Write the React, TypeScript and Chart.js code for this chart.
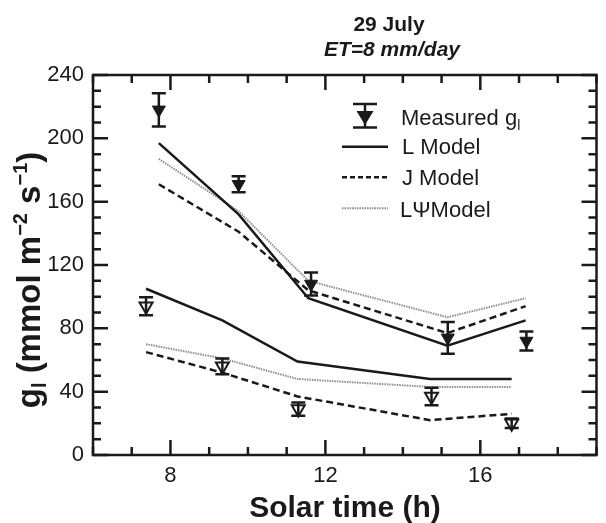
import React, { useEffect, useRef } from "react";
import { Chart, registerables } from "chart.js";

Chart.register(...registerables);

// ---- tick labels ----
const xTickValues = [8, 12, 16];
const yTickValues = [0, 40, 80, 120, 160, 200, 240];

// ---- upper group (models) ----
const upperModelTime = [7.7, 9.76, 11.56, 15.15, 17.17];
const lModelUpper = [197, 152, 99, 69, 85];
const jModelUpper = [171, 141, 104, 77, 94];
const lpsiModelUpper = [187, 154, 110, 87, 99];

// ---- lower group (models) ----
const lowerModelTime = [7.37, 9.34, 11.28, 14.7, 16.81];
const lModelLower = [105, 85, 59, 48, 48];
const jModelLower = [65, 52, 37, 22, 26];
const lpsiModelLower = [70, 61, 48, 43, 43];

// ---- measured ----
const measuredUpperTime = [7.7, 9.76, 11.63, 15.16, 17.19];
const measuredUpper = [218, 171, 108, 74, 72];
const measuredUpperErr = [10.5, 5, 7.3, 10, 6];

const measuredLowerTime = [7.37, 9.34, 11.3, 14.74, 16.81];
const measuredLower = [94, 56, 29, 37, 20];
const measuredLowerErr = [5.7, 5, 4.2, 5.5, 3];

const FONT = "'Liberation Sans', Arial, Helvetica, sans-serif";
const INK = "#1a1a1a";
const PSI_COLOR = "#8f8f8f";

const pts = (xs: number[], ys: number[]) => xs.map((x, i) => ({ x, y: ys[i] }));

type Seg = { t: string; size: number; bold?: boolean; italic?: boolean; dy?: number };

function segFont(s: Seg) {
  return `${s.italic ? "italic " : ""}${s.bold ? "bold " : ""}${s.size}px ${FONT}`;
}

function richWidth(ctx: CanvasRenderingContext2D, segs: Seg[]) {
  let w = 0;
  for (const s of segs) {
    ctx.font = segFont(s);
    w += ctx.measureText(s.t).width;
  }
  return w;
}

function drawRich(ctx: CanvasRenderingContext2D, segs: Seg[], x: number, y: number) {
  let cx = x;
  ctx.textBaseline = "alphabetic";
  ctx.textAlign = "left";
  for (const s of segs) {
    ctx.font = segFont(s);
    ctx.fillText(s.t, cx, y + (s.dy || 0));
    cx += ctx.measureText(s.t).width;
  }
}

const decorPlugin = {
  id: "decor",
  afterDatasetsDraw(chart: any) {
    const { ctx, scales } = chart;
    const xs = scales.x;
    const ys = scales.y;
    ctx.save();
    ctx.strokeStyle = INK;
    ctx.lineWidth = 2.5;
    const drawErr = (ts: number[], vs: number[], es: number[]) => {
      ts.forEach((t, i) => {
        const px = xs.getPixelForValue(t);
        const top = ys.getPixelForValue(vs[i] + es[i]);
        const bot = ys.getPixelForValue(vs[i] - es[i]);
        ctx.beginPath();
        ctx.moveTo(px, top);
        ctx.lineTo(px, bot);
        ctx.moveTo(px - 7, top);
        ctx.lineTo(px + 7, top);
        ctx.moveTo(px - 7, bot);
        ctx.lineTo(px + 7, bot);
        ctx.stroke();
      });
    };
    drawErr(measuredUpperTime, measuredUpper, measuredUpperErr);
    drawErr(measuredLowerTime, measuredLower, measuredLowerErr);
    ctx.restore();
  },
  afterDraw(chart: any) {
    const { ctx, chartArea: a, scales } = chart;
    const xs = scales.x;
    const ys = scales.y;
    ctx.save();
    ctx.strokeStyle = INK;
    ctx.lineWidth = 2.5;
    ctx.lineCap = "butt";
    // frame
    ctx.strokeRect(a.left, a.top, a.right - a.left, a.bottom - a.top);
    // x ticks (inward, bottom & top)
    ctx.beginPath();
    for (let v = Math.ceil(xs.min); v <= xs.max; v += 1) {
      const px = xs.getPixelForValue(v);
      const len = v % 4 === 0 ? 15 : 8;
      ctx.moveTo(px, a.bottom);
      ctx.lineTo(px, a.bottom - len);
      ctx.moveTo(px, a.top);
      ctx.lineTo(px, a.top + len);
    }
    // y ticks (inward, left & right)
    for (let v = ys.min; v <= ys.max; v += 10) {
      const py = ys.getPixelForValue(v);
      const len = v % 40 === 0 ? 15 : 8;
      ctx.moveTo(a.left, py);
      ctx.lineTo(a.left + len, py);
      ctx.moveTo(a.right, py);
      ctx.lineTo(a.right - len, py);
    }
    ctx.stroke();

    ctx.fillStyle = INK;
    // title
    ctx.textAlign = "center";
    ctx.textBaseline = "alphabetic";
    ctx.font = `bold 21px ${FONT}`;
    ctx.fillText("29 July", 389, 31);
    ctx.font = `italic bold 21px ${FONT}`;
    ctx.fillText("ET=8 mm/day", 392, 56);

    // x axis title
    ctx.font = `bold 30px ${FONT}`;
    ctx.fillText("Solar time (h)", 345, 517);

    // y axis title (rotated)
    const ySegs: Seg[] = [
      { t: "g", size: 33, bold: true },
      { t: "l", size: 20, bold: true, dy: 6 },
      { t: " (mmol m", size: 33, bold: true },
      { t: "\u22122", size: 20, bold: true, dy: -13 },
      { t: " s", size: 33, bold: true },
      { t: "\u22121", size: 20, bold: true, dy: -13 },
      { t: ")", size: 33, bold: true },
    ];
    const yw = richWidth(ctx, ySegs);
    ctx.save();
    ctx.translate(40, 280);
    ctx.rotate(-Math.PI / 2);
    drawRich(ctx, ySegs, -yw / 2, 0);
    ctx.restore();

    // legend
    // Measured symbol
    ctx.lineWidth = 2.5;
    ctx.beginPath();
    ctx.moveTo(353, 104);
    ctx.lineTo(377, 104);
    ctx.moveTo(353, 127.5);
    ctx.lineTo(377, 127.5);
    ctx.moveTo(365, 104);
    ctx.lineTo(365, 127.5);
    ctx.stroke();
    ctx.beginPath();
    ctx.moveTo(356.5, 111);
    ctx.lineTo(373.5, 111);
    ctx.lineTo(365, 125);
    ctx.closePath();
    ctx.fill();

    drawRich(
      ctx,
      [
        { t: "Measured g", size: 22 },
        { t: "l", size: 14, dy: 5 },
      ],
      401,
      125
    );

    const legLine = (y: number, dash: number[], color: string, w: number) => {
      ctx.save();
      ctx.strokeStyle = color;
      ctx.lineWidth = w;
      ctx.setLineDash(dash);
      ctx.beginPath();
      ctx.moveTo(342, y);
      ctx.lineTo(388, y);
      ctx.stroke();
      ctx.restore();
    };
    legLine(146.7, [], INK, 2.5);
    legLine(177.3, [5, 3], INK, 2.5);
    legLine(208.3, [1.5, 1], PSI_COLOR, 2);
    drawRich(ctx, [{ t: "L Model", size: 22 }], 402, 153.5);
    drawRich(ctx, [{ t: "J Model", size: 22 }], 402, 185);
    drawRich(ctx, [{ t: "L\u03A8Model", size: 22 }], 400, 216.7);

    ctx.restore();
  },
};

export default function App() {
  const ref = useRef<HTMLCanvasElement | null>(null);

  useEffect(() => {
    document.body.style.margin = "0";
    const canvas = ref.current;
    if (!canvas) return;

    const lineDs = (label: string, xs: number[], ys: number[], color: string, width: number, dash: number[]) => ({
      label,
      data: pts(xs, ys),
      showLine: true,
      borderColor: color,
      backgroundColor: color,
      borderWidth: width,
      borderDash: dash,
      pointRadius: 0,
      tension: 0,
      order: 1,
    });

    const chart = new Chart(canvas, {
      type: "scatter",
      data: {
        datasets: [
          {
            label: "Measured upper",
            data: pts(measuredUpperTime, measuredUpper),
            showLine: false,
            pointStyle: "triangle",
            rotation: 180,
            pointRadius: 7.5,
            backgroundColor: INK,
            borderColor: INK,
            borderWidth: 1,
            order: 0,
          },
          {
            label: "Measured lower",
            data: pts(measuredLowerTime, measuredLower),
            showLine: false,
            pointStyle: "triangle",
            rotation: 180,
            pointRadius: 7.5,
            backgroundColor: "#ffffff",
            borderColor: INK,
            borderWidth: 2,
            order: 0,
          },
          lineDs("L Model", upperModelTime, lModelUpper, INK, 2.5, []),
          lineDs("J Model", upperModelTime, jModelUpper, INK, 2.5, [7, 4]),
          lineDs("LΨModel", upperModelTime, lpsiModelUpper, PSI_COLOR, 2, [1.5, 1]),
          lineDs("L Model lower", lowerModelTime, lModelLower, INK, 2.5, []),
          lineDs("J Model lower", lowerModelTime, jModelLower, INK, 2.5, [7, 4]),
          lineDs("LΨModel lower", lowerModelTime, lpsiModelLower, PSI_COLOR, 2, [1.5, 1]),
        ] as any,
      },
      options: {
        responsive: false,
        animation: false,
        layout: { padding: { top: 75, left: 0, right: 0, bottom: 0 } },
        plugins: {
          legend: { display: false },
          tooltip: { enabled: false },
          title: { display: false },
        },
        scales: {
          x: {
            type: "linear",
            min: 6,
            max: 19,
            afterBuildTicks: (s: any) => {
              s.ticks = xTickValues.map((v) => ({ value: v }));
            },
            afterFit: (s: any) => {
              s.height = 68;
            },
            grid: { display: false, drawTicks: false },
            border: { display: false },
            ticks: {
              font: { family: FONT, size: 22 },
              color: INK,
              padding: 8,
              maxRotation: 0,
              autoSkip: false,
            },
          },
          y: {
            type: "linear",
            min: 0,
            max: 240,
            afterBuildTicks: (s: any) => {
              s.ticks = yTickValues.map((v) => ({ value: v }));
            },
            afterFit: (s: any) => {
              s.width = 93;
            },
            grid: { display: false, drawTicks: false },
            border: { display: false },
            ticks: {
              font: { family: FONT, size: 22 },
              color: INK,
              padding: 9,
              autoSkip: false,
            },
          },
        },
      } as any,
      plugins: [decorPlugin],
    });

    return () => chart.destroy();
  }, []);

  return <canvas ref={ref} width={606} height={523} style={{ display: "block" }} />;
}
